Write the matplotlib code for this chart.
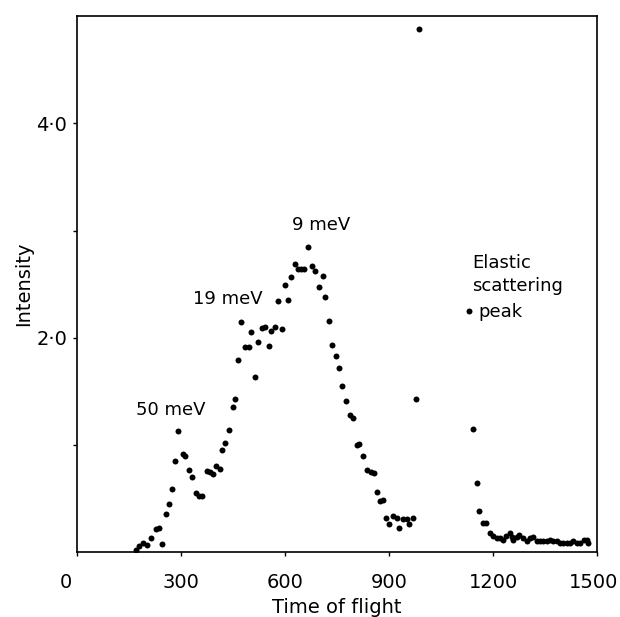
import matplotlib.pyplot as plt
from matplotlib.transforms import offset_copy

# time of flight channels
tof = [170, 179, 190, 202, 215, 229, 238, 245, 257, 266, 275, 283, 293, 305, 313,
       323, 333, 343, 352, 361, 374, 383, 392, 401, 413, 419, 428, 439, 449, 457,
       466, 473, 485, 495, 503, 514, 523, 534, 542, 553, 560, 570, 581, 591, 600,
       610, 618, 629, 637, 646, 655, 667, 678, 688, 699, 709, 716, 726, 736, 747,
       757, 765, 776, 789, 795, 807, 814, 826, 838, 847, 857, 865, 874, 882, 892,
       901, 913, 922, 930, 941, 951, 959, 969, 978, 987,
       1132, 1143, 1155, 1161, 1172, 1180, 1192, 1201, 1211, 1220, 1230, 1238,
       1249, 1254, 1259, 1269, 1276, 1286, 1297, 1307, 1316, 1326, 1336, 1345,
       1355, 1365, 1374, 1384, 1394, 1403, 1413, 1422, 1432, 1442, 1451, 1461,
       1471, 1475]

intensity = [0.02, 0.06, 0.09, 0.07, 0.13, 0.22, 0.23, 0.08, 0.36, 0.45, 0.59, 0.85, 1.13, 0.92, 0.90,
             0.77, 0.70, 0.55, 0.52, 0.52, 0.76, 0.75, 0.73, 0.80, 0.78, 0.95, 1.02, 1.14, 1.35, 1.43,
             1.79, 2.15, 1.91, 1.91, 2.05, 1.63, 1.96, 2.09, 2.10, 1.92, 2.06, 2.10, 2.34, 2.08, 2.49,
             2.35, 2.57, 2.69, 2.64, 2.64, 2.64, 2.85, 2.67, 2.62, 2.47, 2.58, 2.38, 2.16, 1.93, 1.83,
             1.72, 1.55, 1.41, 1.28, 1.25, 1.00, 1.01, 0.90, 0.77, 0.75, 0.74, 0.56, 0.48, 0.49, 0.32,
             0.26, 0.34, 0.32, 0.23, 0.31, 0.31, 0.26, 0.32, 1.43, 4.88,
             2.25, 1.15, 0.65, 0.38, 0.27, 0.27, 0.18, 0.15, 0.13, 0.13, 0.11, 0.15,
             0.18, 0.14, 0.11, 0.14, 0.16, 0.13, 0.10, 0.13, 0.14, 0.10, 0.10, 0.10,
             0.10, 0.11, 0.10, 0.10, 0.09, 0.09, 0.09, 0.09, 0.10, 0.09, 0.09, 0.11,
             0.11, 0.09]

xticks = [0, 300, 600, 900, 1200, 1500]
yticks = [1.0, 2.0, 3.0, 4.0]
ytick_labels = ["", "2·0", "", "4·0"]

# peak labels: (text, x, y)
peak_labels = [("50 meV", 270, 1.24), ("19 meV", 435, 2.28), ("9 meV", 705, 2.97)]

# elastic peak note, one line at a time: (text, x, y)
elastic_lines = [("Elastic", 1140, 2.70), ("scattering", 1140, 2.48), ("peak", 1157, 2.24)]

plt.rcParams['font.family'] = ['DejaVu Sans']

fig = plt.figure(figsize=(6.2, 6.17), dpi=100)
ax = fig.add_axes([0.124, 0.105, 0.839, 0.869])

ax.plot(tof, intensity, 'o', color='black', ms=4.3, mec='none')

ax.set_xlim(0, 1500)
ax.set_ylim(0, 5.0)
ax.set_xticks(xticks)
ax.set_xticklabels([str(t) for t in xticks], fontsize=14)
ax.set_yticks(yticks)
ax.set_yticklabels(ytick_labels, fontsize=14)
ax.tick_params(direction='out', length=3, width=1)
ax.tick_params(axis='x', pad=12)
ax.tick_params(axis='y', pad=4)

# nudge the end labels like in the original
labs = ax.get_xticklabels()
labs[0].set_transform(offset_copy(labs[0].get_transform(), fig=fig, x=-11, y=0, units='dots'))
labs[-1].set_transform(offset_copy(labs[-1].get_transform(), fig=fig, x=-3, y=0, units='dots'))

for s in ax.spines.values():
    s.set_linewidth(1.2)

ax.set_xlabel("Time of flight", fontsize=14, labelpad=4)
ax.set_ylabel("Intensity", fontsize=14, labelpad=2)

for txt, x, y in peak_labels:
    ax.text(x, y, txt, fontsize=13, ha='center', va='bottom')

for txt, x, y in elastic_lines:
    ax.text(x, y, txt, fontsize=13, ha='left', va='center')

plt.savefig("out.png", dpi=100)
